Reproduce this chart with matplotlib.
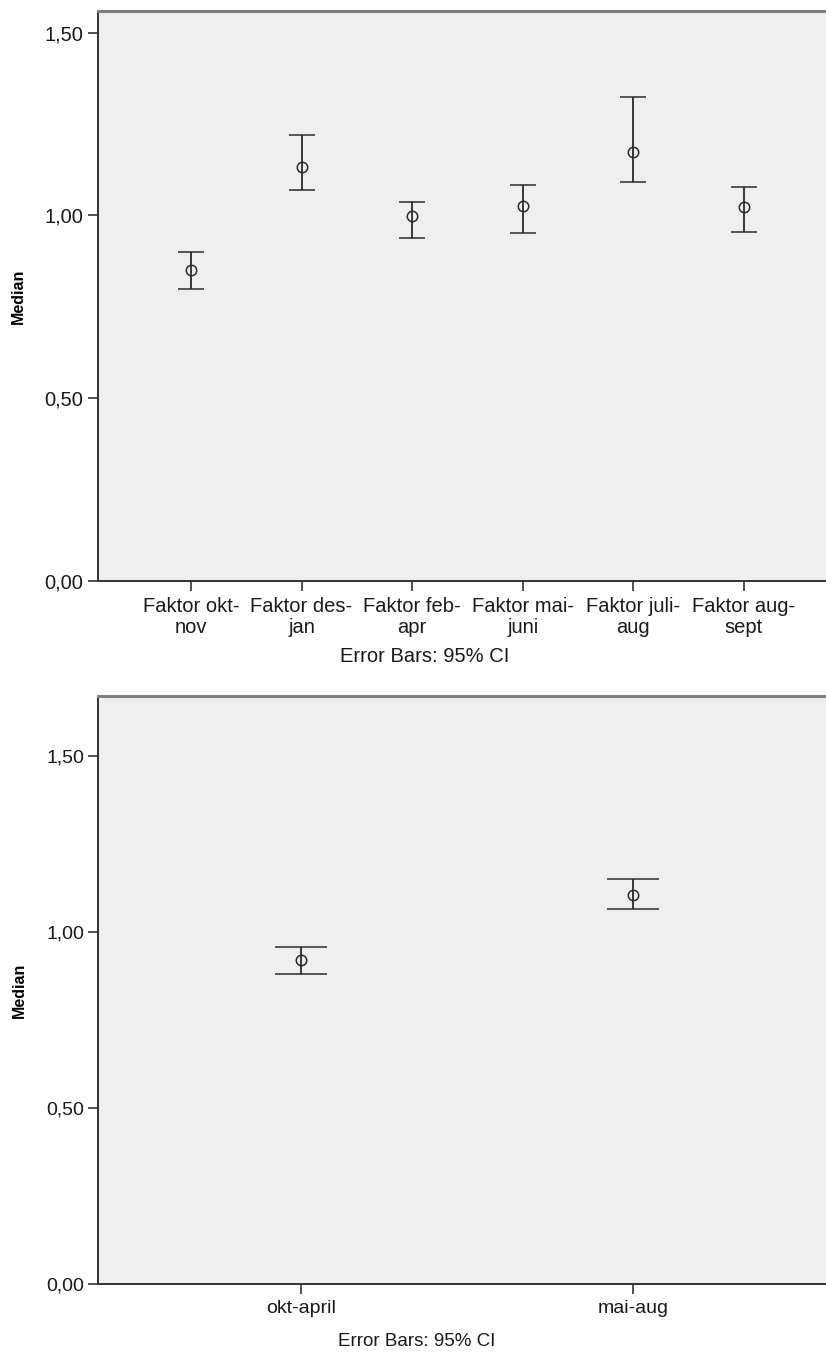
import matplotlib
matplotlib.use("Agg")
import matplotlib.pyplot as plt
from matplotlib.ticker import FuncFormatter

# Dados (mediana e IC 95%)
top_labels = ["Faktor okt-\nnov", "Faktor des-\njan", "Faktor feb-\napr",
              "Faktor mai-\njuni", "Faktor juli-\naug", "Faktor aug-\nsept"]
top_median = [0.850, 1.131, 0.999, 1.026, 1.173, 1.023]
top_lower = [0.798, 1.069, 0.939, 0.951, 1.090, 0.953]
top_upper = [0.900, 1.219, 1.035, 1.082, 1.325, 1.077]

bottom_labels = ["okt-april", "mai-aug"]
bottom_median = [0.921, 1.106]
bottom_lower = [0.881, 1.066]
bottom_upper = [0.958, 1.152]

yticks = [0.0, 0.5, 1.0, 1.5]

plt.rcParams['font.family'] = ['Liberation Sans', 'DejaVu Sans']


def comma_fmt(v, pos):
    return f"{v:.2f}".replace(".", ",")


def desenhar(ax, labels, median, lower, upper, xlim, ylim, capsize, fs):
    x = list(range(len(labels)))
    err = [[m - lo for m, lo in zip(median, lower)],
           [up - m for m, up in zip(median, upper)]]
    ax.errorbar(x, median, yerr=err, fmt='o', mfc='none', mec='#2a2a2a',
                ms=7.5, mew=1.1, ecolor='#2a2a2a', elinewidth=1.3,
                capsize=capsize, capthick=1.3)
    ax.set_facecolor('#efefef')
    ax.set_xlim(*xlim)
    ax.set_ylim(*ylim)
    ax.set_yticks(yticks)
    ax.yaxis.set_major_formatter(FuncFormatter(comma_fmt))
    ax.set_xticks(x)
    ax.set_xticklabels(labels, linespacing=1.15)
    ax.tick_params(axis='both', direction='out', length=7.5, width=1.2,
                   color='#333333', labelsize=fs, pad=3, labelcolor='#1a1a1a')
    ax.tick_params(axis='x', pad=4)
    for s in ['left', 'bottom']:
        ax.spines[s].set_color('#333333')
        ax.spines[s].set_linewidth(1.4)
    ax.spines['top'].set_color('#808080')
    ax.spines['top'].set_linewidth(2.2)
    ax.spines['right'].set_visible(False)
    ax.set_ylabel('Median', fontsize=11.5, fontweight='bold')


fig = plt.figure(figsize=(8.26, 13.58), dpi=100)

ax1 = fig.add_axes([0.1186, 0.5724, 0.8944, 0.4195])
desenhar(ax1, top_labels, top_median, top_lower, top_upper,
         (-0.841, 5.84), (0, 1.559), 9.7, 14.5)
ax1.yaxis.set_label_coords(-0.097, 0.5)

ax2 = fig.add_axes([0.1192, 0.0543, 0.8923, 0.4332])
desenhar(ax2, bottom_labels, bottom_median, bottom_lower, bottom_upper,
         (-0.61, 1.61), (0, 1.671), 18.7, 14.0)
ax2.yaxis.set_label_coords(-0.097, 0.5)

fig.text(0.5145, 1 - 656 / 1358, 'Error Bars: 95% CI', ha='center',
         va='center', fontsize=14.5, color='#1a1a1a')
fig.text(0.505, 1 - 1341 / 1358, 'Error Bars: 95% CI', ha='center',
         va='center', fontsize=13.5, color='#1a1a1a')

fig.savefig('out.png', dpi=100)
